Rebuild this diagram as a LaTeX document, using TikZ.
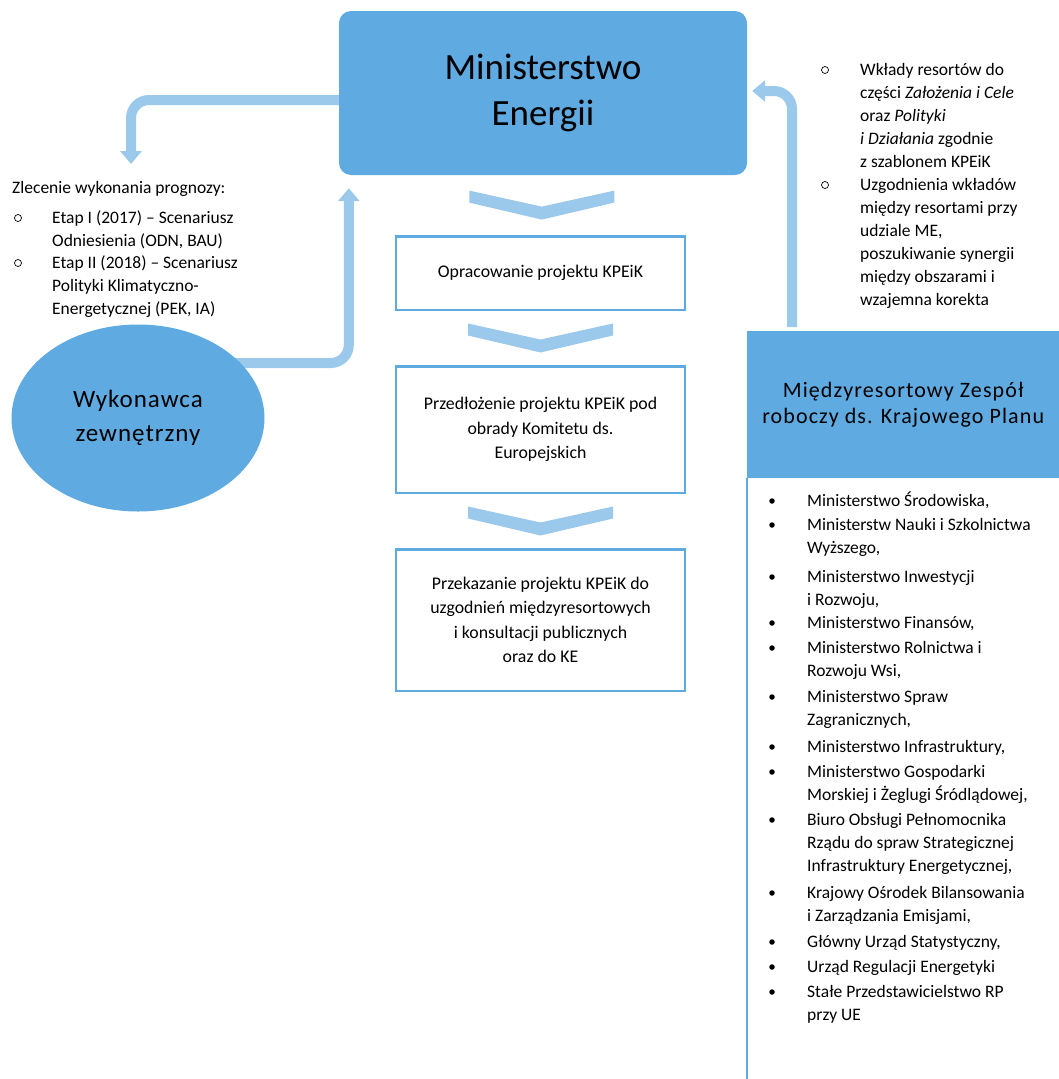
\documentclass[tikz,border=0pt]{standalone}
\usepackage{fontspec}
\setmainfont{Carlito}
\newfontfamily\headfont[LetterSpace=5]{Carlito}
\newfontfamily\wykfont[LetterSpace=4]{Carlito}
\usepackage{xcolor}
\usetikzlibrary{positioning,shapes.geometric,arrows.meta,backgrounds}
\definecolor{meblue}{RGB}{94,170,225}
\definecolor{flowblue}{RGB}{155,201,236}
\tikzstyle{body}+=[font=\fontsize{17.5}{23}\selectfont]
\tikzstyle{txt}+=[body,align=left,inner sep=0pt,anchor=north west]
\tikzstyle{ring}+=[circle,draw,line width=0.7pt,inner sep=0pt,minimum size=7pt]
\tikzstyle{dot}+=[circle,fill,inner sep=0pt,minimum size=5.5pt]
\tikzstyle{mebox}+=[fill=meblue,rounded corners=12pt,minimum width=408pt,minimum height=164pt,align=center,font=\fontsize{37}{46}\selectfont]
\tikzstyle{stepbox}+=[draw=meblue,line width=2.5pt,minimum width=289pt,align=center,font=\fontsize{17.8}{24.5}\selectfont]
\tikzstyle{flow}+=[draw=flowblue,line width=10pt,rounded corners=18pt,-{Triangle[width=21pt,length=13pt]}]
\tikzstyle{chev}+=[fill=flowblue]

\begin{document}
\begin{tikzpicture}[x=1pt,y=-1pt]
  \useasboundingbox (0,0) rectangle (1059,1079);

  \node[mebox] (me) at (543,93) {Ministerstwo\\Energii};
  \node[stepbox,minimum height=73.5pt] (opr) at (540.5,273) {Opracowanie projektu KPEiK};
  \node[stepbox,minimum height=126.5pt,below=54pt of opr] (prz) {Przedłożenie projektu KPEiK pod\\obrady Komitetu ds.\\Europejskich};
  \node[stepbox,minimum height=141.5pt,below=54pt of prz] (ksz) {Przekazanie projektu KPEiK do\\uzgodnień międzyresortowych\\i konsultacji publicznych\\oraz do KE};

  \path (me.south) -- (opr.north) coordinate[midway] (g1);
  \path (opr.south) -- (prz.north) coordinate[midway] (g2);
  \path (prz.south) -- (ksz.north) coordinate[midway] (g3);
  \foreach \g in {g1,g2,g3}
    \fill[chev,shift={(\g)}] (-72.5,-14.5) -- (0,1.5) -- (72.5,-14.5) -- (72.5,-2.5) -- (0,14.5) -- (-72.5,-2.5) -- cycle;

  \node[ellipse,fill=meblue,minimum width=253pt,minimum height=187pt,align=center,font=\wykfont\fontsize{25}{34}\selectfont] (wyk) at (138,418) {Wykonawca\\zewnętrzny};

  \node[fill=meblue,minimum width=312pt,minimum height=147pt,anchor=north west,align=center,font=\headfont\fontsize{22}{26}\selectfont] (zesp) at (747,331) {Międzyresortowy Zespół\\roboczy ds. Krajowego Planu};
  \draw[meblue,line width=2.5pt] (zesp.south west) -- ++(0,610);

  \coordinate (zl) at (131,164);
  \begin{scope}[on background layer]
    \draw[flow] ([yshift=-7pt]me.west) -| (zl);
    \draw[flow,shorten >=13pt] ([yshift=55pt]wyk.center) -| ([xshift=10pt]me.south west);
    \draw[flow,shorten >=5pt,shorten <=4pt] ([xshift=45pt]zesp.north west) |- ([yshift=2pt]me.east);
  \end{scope}

  \node[txt] (zlec) at (12,177.5) {\strut Zlecenie wykonania prognozy:};
  \node[ring] (r1) at (18,218) {};
  \node[txt] (et1) at (52,207.5) {\strut Etap I (2017) – Scenariusz\\Odniesienia (ODN, BAU)};
  \node[ring] (r2) at (18,263) {};
  \node[txt] (et2) at (52,252.5) {\strut Etap II (2018) – Scenariusz\\Polityki Klimatyczno-\\Energetycznej (PEK, IA)};

  \node[ring] (r3) at (825,70) {};
  \node[txt] (wkl) at (860,59.5) {\strut Wkłady resortów do\\części \textit{Założenia i Cele}\\oraz \textit{Polityki}\\\textit{i Działania} zgodnie\\z szablonem KPEiK};
  \node[ring] (r4) at (825,185) {};
  \node[txt] (uzg) at (860,174.5) {\strut Uzgodnienia wkładów\\między resortami przy\\udziale ME,\\poszukiwanie synergii\\między obszarami i\\wzajemna korekta};

  \foreach \y/\lbl [count=\i] in {
      501/{Ministerstwo Środowiska,},
      525/{Ministerstw Nauki i Szkolnictwa\\Wyższego,},
      577/{Ministerstwo Inwestycji\\i Rozwoju,},
      623/{Ministerstwo Finansów,},
      648/{Ministerstwo Rolnictwa i\\Rozwoju Wsi,},
      697/{Ministerstwo Spraw\\Zagranicznych,},
      747/{Ministerstwo Infrastruktury,},
      772/{Ministerstwo Gospodarki\\Morskiej i Żeglugi Śródlądowej,},
      820/{Biuro Obsługi Pełnomocnika\\Rządu do spraw Strategicznej\\Infrastruktury Energetycznej,},
      893/{Krajowy Ośrodek Bilansowania\\i Zarządzania Emisjami,},
      942/{Główny Urząd Statystyczny,},
      967/{Urząd Regulacji Energetyki},
      992/{Stałe Przedstawicielstwo RP\\przy UE}} {
    \node[dot] (d\i) at (772,\y) {};
    \node[txt] (m\i) at (807,\y-10.5) {\strut\lbl};
  }
\end{tikzpicture}
\end{document}
